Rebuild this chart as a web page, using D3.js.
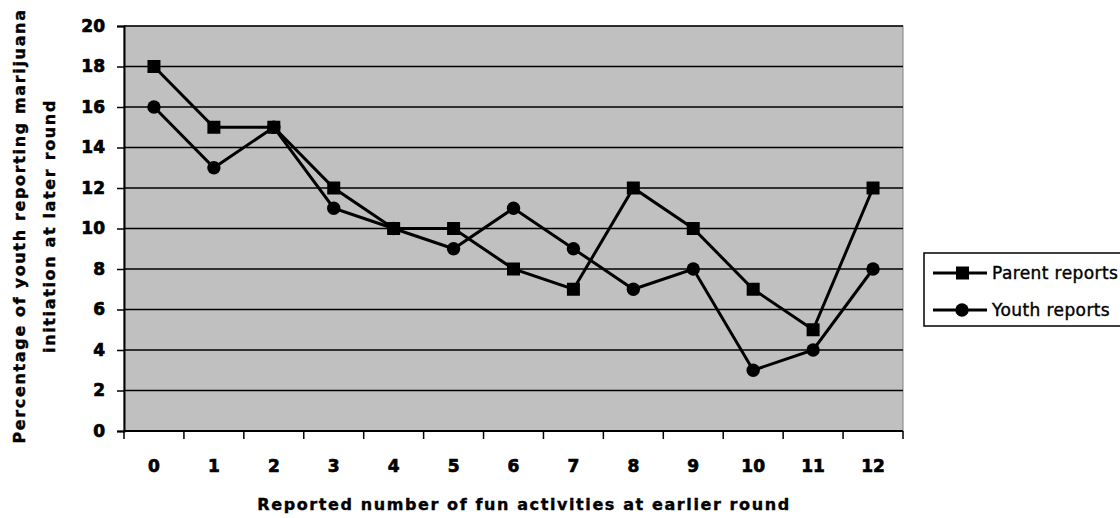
<!DOCTYPE html>
<html>
<head>
<meta charset="utf-8">
<script src="https://cdn.jsdelivr.net/npm/d3@7"></script>
<style>
  body { margin: 0; background: #fff; }
  text { font-family: "DejaVu Sans", sans-serif; }
</style>
</head>
<body>
<div id="chart"></div>
<script>
var categories = ["0","1","2","3","4","5","6","7","8","9","10","11","12"];
var parentReports = [18,15,15,12,10,10,8,7,12,10,7,5,12];
var youthReports = [16,13,15,11,10,9,11,9,7,8,3,4,8];
var yTicks = [0,2,4,6,8,10,12,14,16,18,20];

var width = 1120, height = 518;
var margin = {left: 124, top: 26, right: 217, bottom: 87};

var svg = d3.select("#chart").append("svg").attr("width", width).attr("height", height);

var x = d3.scaleBand().domain(categories).range([margin.left, width - margin.right]);
var y = d3.scaleLinear().domain([0, 20]).range([height - margin.bottom, margin.top]);

// plot background
svg.append("rect")
   .attr("x", margin.left).attr("y", margin.top)
   .attr("width", width - margin.left - margin.right)
   .attr("height", height - margin.top - margin.bottom)
   .attr("fill", "#c0c0c0").attr("stroke", "#808080").attr("stroke-width", 1);

// gridlines
svg.selectAll(".grid").data(yTicks.filter(d => d > 0)).enter().append("line")
   .attr("x1", margin.left).attr("x2", width - margin.right)
   .attr("y1", d => y(d)).attr("y2", d => y(d))
   .attr("stroke", "#000").attr("stroke-width", 1.5);

// y axis
var yAxis = svg.append("g").attr("transform", "translate(" + margin.left + ",0)")
   .call(d3.axisLeft(y).tickValues(yTicks).tickSize(7).tickPadding(12));
yAxis.select(".domain").attr("stroke", "#000").attr("stroke-width", 2);
yAxis.selectAll("line").attr("stroke-width", 1.5);
yAxis.selectAll("text").attr("font-size", 17).attr("font-weight", "bold").attr("fill", "#000")
   .attr("stroke", "#000").attr("stroke-width", 0.7)
   .style("font-family", "DejaVu Sans");

// x axis, ticks at band boundaries
var xAxisG = svg.append("g").attr("transform", "translate(0," + y(0) + ")");
xAxisG.append("line").attr("x1", margin.left).attr("x2", width - margin.right)
   .attr("stroke", "#000").attr("stroke-width", 2);
var bounds = categories.map(c => x(c)).concat([x.range()[1]]);
xAxisG.selectAll(".tk").data(bounds).enter().append("line")
   .attr("x1", d => d).attr("x2", d => d).attr("y1", 0).attr("y2", 8)
   .attr("stroke", "#000").attr("stroke-width", 1.5);
xAxisG.selectAll(".lbl").data(categories).enter().append("text")
   .attr("x", d => x(d) + x.bandwidth() / 2).attr("y", 41)
   .attr("text-anchor", "middle").attr("font-size", 17).attr("font-weight", "bold")
   .attr("stroke", "#000").attr("stroke-width", 0.7)
   .text(d => d);

// axis titles
svg.append("text").attr("x", 524).attr("y", 510)
   .attr("text-anchor", "middle").attr("font-size", 16).attr("font-weight", "bold")
   .attr("letter-spacing", 1.6).attr("stroke", "#000").attr("stroke-width", 0.4)
   .text("Reported number of fun activities at earlier round");

var yMid = 226;
var yt = svg.append("text").attr("transform", "translate(25," + yMid + ") rotate(-90)")
   .attr("text-anchor", "middle").attr("font-size", 16).attr("font-weight", "bold")
   .attr("letter-spacing", 1.65).attr("stroke", "#000").attr("stroke-width", 0.4);
yt.append("tspan").attr("x", 0).attr("dy", 0).text("Percentage of youth reporting marijuana");
yt.append("tspan").attr("x", 0).attr("dy", 30).text("initiation at later round");

// lines
var line = d3.line().x((d, i) => x(categories[i]) + x.bandwidth() / 2).y(d => y(d));
svg.append("path").datum(parentReports).attr("d", line)
   .attr("fill", "none").attr("stroke", "#000").attr("stroke-width", 3);
svg.append("path").datum(youthReports).attr("d", line)
   .attr("fill", "none").attr("stroke", "#000").attr("stroke-width", 3);

svg.selectAll(".sq").data(parentReports).enter().append("rect")
   .attr("x", (d, i) => x(categories[i]) + x.bandwidth() / 2 - 6.5)
   .attr("y", d => y(d) - 6.5).attr("width", 13).attr("height", 13).attr("fill", "#000");
svg.selectAll(".ci").data(youthReports).enter().append("circle")
   .attr("cx", (d, i) => x(categories[i]) + x.bandwidth() / 2)
   .attr("cy", d => y(d)).attr("r", 6.7).attr("fill", "#000");

// legend
var lg = svg.append("g");
lg.append("rect").attr("x", 924).attr("y", 253).attr("width", 200).attr("height", 73)
   .attr("fill", "#fff").attr("stroke", "#000").attr("stroke-width", 1.5);
var legendItems = [{name: "Parent reports", shape: "square"}, {name: "Youth reports", shape: "circle"}];
legendItems.forEach(function (it, i) {
  var ly = 273 + i * 37;
  lg.append("line").attr("x1", 933).attr("x2", 987).attr("y1", ly).attr("y2", ly)
     .attr("stroke", "#000").attr("stroke-width", 3);
  if (it.shape === "square") {
    lg.append("rect").attr("x", 956).attr("y", ly - 6.5).attr("width", 13).attr("height", 13).attr("fill", "#000");
  } else {
    lg.append("circle").attr("cx", 962).attr("cy", ly).attr("r", 6.7).attr("fill", "#000");
  }
  lg.append("text").attr("x", 992).attr("y", ly + 6).attr("font-size", 17)
     .attr("letter-spacing", 0.4).attr("stroke", "#000").attr("stroke-width", 0.4)
     .text(it.name);
});
</script>
</body>
</html>
